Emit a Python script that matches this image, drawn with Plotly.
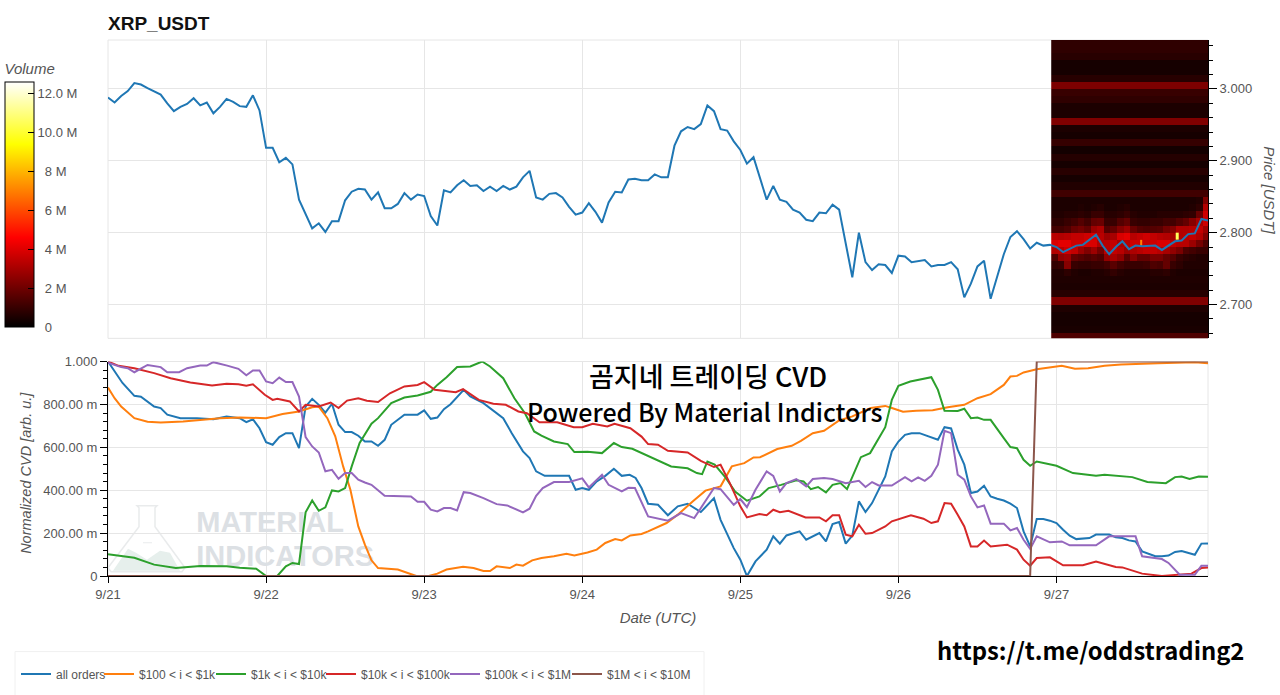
import pandas as pd
import plotly.graph_objects as go

# price is hourly from 9/21 00:00 UTC
start = pd.Timestamp('2025-09-21')
price = [
    2.988, 2.981, 2.990, 2.997, 3.008, 3.006, 3.001, 2.997, 2.992, 2.980, 2.969, 2.975, 2.979, 2.987, 2.977, 2.981,
    2.966, 2.975, 2.986, 2.982, 2.976, 2.975, 2.991, 2.970, 2.918, 2.918, 2.898, 2.904, 2.895, 2.846, 2.825, 2.806,
    2.813, 2.801, 2.816, 2.816, 2.845, 2.857, 2.861, 2.860, 2.846, 2.856, 2.834, 2.834, 2.840, 2.855, 2.846, 2.853,
    2.851, 2.823, 2.810, 2.859, 2.856, 2.866, 2.873, 2.865, 2.866, 2.858, 2.864, 2.858, 2.865, 2.860, 2.864, 2.877,
    2.886, 2.849, 2.846, 2.854, 2.855, 2.849, 2.836, 2.825, 2.828, 2.841, 2.829, 2.814, 2.842, 2.857, 2.856, 2.874,
    2.875, 2.873, 2.873, 2.881, 2.877, 2.877, 2.921, 2.941, 2.947, 2.944, 2.951, 2.977, 2.969, 2.944, 2.942, 2.927,
    2.915, 2.896, 2.905, 2.875, 2.846, 2.865, 2.846, 2.843, 2.832, 2.828, 2.818, 2.816, 2.828, 2.827, 2.839, 2.832,
    2.785, 2.738, 2.800, 2.759, 2.748, 2.756, 2.755, 2.744, 2.768, 2.767, 2.759, 2.761, 2.762, 2.753, 2.755, 2.755,
    2.759, 2.749, 2.710, 2.729, 2.753, 2.761, 2.708, 2.739, 2.770, 2.794, 2.802, 2.791, 2.778, 2.786, 2.782, 2.783,
    2.780, 2.773, 2.778, 2.782, 2.783, 2.790, 2.797, 2.782, 2.770, 2.780, 2.788, 2.777, 2.782, 2.781, 2.781, 2.782,
    2.776, 2.782, 2.788, 2.789, 2.798, 2.799, 2.819, 2.817,
]

all_hours = [0, 2.2, 4, 5, 7, 8, 9, 11, 13.5, 16, 18, 20, 21, 22, 23, 24, 25, 26, 27, 28, 29, 30, 31, 32, 33, 34, 35, 36, 37, 38, 39, 40, 41, 42, 43, 45, 47, 48, 49, 50, 51, 52, 54, 55, 57, 60, 61.3, 63, 64, 65, 66.3, 70, 71, 72, 73, 74.2, 75.5, 76.8, 78, 79.2, 80.1, 81, 82, 83.5, 85, 86.5, 88, 90, 92, 93, 95, 96, 97, 98.3, 100, 101, 102, 103, 105, 106, 108, 109, 110, 111, 112, 113, 114, 115, 116, 118, 119, 120, 121, 122, 123.2, 125, 126, 127, 128, 129, 130, 131, 132, 133, 134, 135, 136, 137, 138, 139, 140, 141, 142, 143, 144, 145, 146, 147, 148, 149, 150, 151, 152, 153, 154, 155, 156, 157, 158, 159, 160, 161, 162, 163, 165, 166, 167]
all_vals = [1.0, .90, .84, .836, .79, .783, .752, .736, .736, .731, .744, .736, .717, .731, .689, .624, .612, .648, .666, .666, .596, .79, .826, .798, .762, .803, .705, .671, .671, .654, .627, .627, .607, .635, .705, .752, .752, .772, .733, .739, .778, .801, .868, .837, .806, .736, .666, .581, .55, .488, .467, .467, .402, .41, .402, .441, .467, .5, .467, .472, .457, .41, .337, .332, .283, .325, .337, .298, .363, .262, .13, .076, .0, .068, .123, .185, .151, .189, .208, .169, .2, .161, .242, .252, .151, .188, .348, .298, .34, .464, .581, .627, .658, .666, .666, .648, .635, .694, .688, .589, .519, .387, .394, .421, .371, .36, .352, .337, .317, .208, .138, .266, .266, .258, .247, .216, .188, .172, .174, .177, .193, .194, .193, .18, .177, .166, .161, .115, .102, .092, .092, .095, .112, .116, .099, .151, .152]

orange_hours = [0, 1, 2, 4, 6, 8, 11.4, 14, 17, 20, 24, 26.5, 29, 31, 32, 33.3, 34.5, 35.7, 36.8, 38, 39, 40, 41, 44, 46, 46.8, 48.7, 50, 51.4, 53.9, 55.5, 57, 58, 59, 61, 62, 63, 64.4, 65.8, 67.7, 69.6, 70.8, 72.8, 74.2, 75.5, 77, 78, 79.3, 81, 82, 84.8, 86.5, 88.8, 90.7, 93, 94.7, 96.6, 98, 99, 101.6, 103.8, 105.2, 107, 108.7, 111, 113, 115.8, 118, 119, 120.7, 122.7, 125.2, 127.5, 130, 132, 134, 136, 137, 138, 139, 141, 144.8, 146.8, 148.8, 151.3, 153.8, 159.4, 162.8, 165, 167]
orange_vals = [.879, .829, .79, .736, .719, .716, .72, .727, .736, .739, .736, .755, .767, .787, .79, .736, .651, .511, .402, .231, .146, .073, .037, .03, .006, 0, 0, .011, .03, .043, .037, .023, .023, .045, .037, .053, .048, .073, .084, .092, .104, .096, .11, .123, .154, .172, .166, .189, .196, .208, .247, .286, .348, .398, .418, .511, .526, .553, .554, .592, .607, .63, .666, .677, .725, .744, .783, .793, .783, .766, .77, .773, .787, .798, .829, .848, .891, .93, .933, .949, .964, .98, .966, .969, .98, .986, .992, .997, .997, .992]

green_hours = [0, 2, 4, 7, 10.3, 14, 18, 20, 22.5, 24, 25.7, 27, 28, 29, 30, 31, 32, 33, 34, 35, 36, 37, 38.2, 40, 41, 43, 45, 47, 49, 50, 51.4, 53, 55, 56.8, 58, 60, 61.7, 63.3, 64.7, 65.8, 67.7, 69.8, 70.8, 72.8, 75, 76.8, 78, 79.6, 81, 83, 85.5, 88, 89.4, 90.2, 91, 92.1, 93.8, 95.2, 97, 98.9, 100.3, 102.2, 104.5, 105.6, 106.7, 107.8, 109, 110, 111.2, 112.2, 113.2, 114.3, 115.7, 118, 119, 120, 121.8, 125, 126, 127, 129, 130, 131, 132, 133, 134, 136, 137, 138, 139, 140, 141, 144, 146.5, 150, 151.3, 155.5, 157.8, 160.6, 162, 163, 164.2, 165.6, 167]
green_vals = [.102, .092, .085, .053, .037, .047, .045, .039, .034, 0, 0, .045, .061, .056, .297, .352, .304, .32, .399, .394, .41, .511, .62, .71, .736, .806, .832, .842, .859, .891, .927, .974, .977, 1.0, .977, .922, .829, .759, .674, .654, .627, .615, .578, .579, .573, .62, .601, .593, .573, .545, .511, .502, .48, .475, .534, .519, .457, .394, .351, .371, .41, .425, .446, .441, .405, .415, .39, .425, .433, .405, .48, .554, .573, .694, .821, .887, .907, .927, .868, .77, .769, .78, .736, .739, .728, .728, .643, .601, .596, .542, .514, .534, .514, .48, .467, .472, .461, .438, .433, .461, .464, .452, .464, .463]

red_hours = [0, 1.6, 4, 7, 9.5, 12.5, 15.8, 18, 19.8, 21, 22, 23.8, 25, 25.7, 27.6, 29, 30, 32, 33.8, 35, 36.3, 38, 39.3, 41, 42.8, 45, 47, 48, 49.6, 52.8, 53.9, 56.3, 58.5, 60.4, 62.3, 63.6, 65.5, 68.2, 70.7, 72, 73.6, 75.8, 76.9, 79.3, 81, 82, 83.5, 85, 88, 90, 92, 93, 94.4, 96, 97, 98.9, 100, 101, 102, 103.3, 105.9, 108, 109, 110, 111, 112, 113, 114, 115, 116, 118, 119, 121.9, 123.8, 125, 126, 127, 128, 129, 130, 131, 132, 133, 134, 136.5, 138, 139, 140, 141, 143, 145, 148, 150, 153, 154, 157, 160, 164.5, 166, 167]
red_vals = [1.0, .98, .969, .946, .922, .902, .888, .896, .894, .887, .894, .845, .821, .826, .814, .767, .798, .79, .809, .783, .818, .829, .817, .811, .852, .884, .891, .904, .868, .857, .871, .821, .803, .798, .767, .759, .717, .717, .694, .694, .71, .697, .71, .689, .65, .615, .612, .584, .576, .537, .508, .519, .433, .325, .273, .289, .283, .309, .297, .304, .273, .273, .255, .283, .283, .193, .185, .239, .197, .2, .231, .255, .283, .267, .247, .255, .34, .337, .286, .231, .138, .138, .165, .138, .146, .123, .076, .048, .084, .087, .05, .05, .067, .042, .04, .011, 0, .011, .037, .04]

purple_hours = [0, 2, 3, 4, 6, 8, 9, 10.8, 12, 14, 15, 16, 18.1, 19.8, 21, 22, 23, 24, 25, 26, 27, 28, 29, 30, 31, 32, 33, 34, 35, 36, 37, 38, 39, 40, 42, 46, 47, 48, 49, 50, 51, 52, 53, 54, 55, 57, 59, 60.6, 63, 64, 65, 66, 67.7, 70, 72, 73, 75, 76, 78, 79, 80, 81, 82, 85, 87, 89, 90, 92, 93, 94, 95, 96, 97, 98.3, 100, 101, 102, 103, 104.5, 106, 107, 108.7, 110, 112, 114, 115, 116, 117, 119, 121, 122, 123, 124, 125, 126, 127, 128, 129, 130, 131, 132, 133, 134, 136, 137, 138, 139, 140, 141, 143, 144.8, 146, 150, 152, 156, 157, 160, 161, 162.7, 165, 166, 167]
purple_vals = [.995, .974, .969, .95, .984, .974, .95, .95, .969, .981, .981, .997, .981, .966, .936, .958, .958, .907, .899, .925, .904, .904, .837, .648, .604, .576, .488, .495, .453, .48, .48, .449, .436, .425, .374, .371, .346, .346, .309, .301, .317, .317, .306, .391, .387, .363, .335, .329, .297, .314, .374, .41, .438, .438, .455, .413, .472, .425, .394, .411, .41, .34, .278, .258, .293, .27, .317, .41, .405, .371, .332, .359, .321, .402, .488, .467, .394, .433, .452, .418, .452, .457, .452, .433, .444, .415, .438, .422, .422, .461, .441, .46, .444, .467, .519, .677, .666, .472, .449, .371, .32, .329, .244, .244, .213, .224, .169, .127, .185, .157, .161, .143, .143, .185, .185, .092, .079, .061, .006, .006, .048, .048]

brown_hours = [0, 140, 141, 167]
brown_vals = [0, 0, 1.0, 1.0]

series_names = ['all orders', '$100 < i < $1k', '$1k < i < $10k', '$10k < i < $100k', '$100k < i < $1M', '$1M < i < $10M']
series_hours = [all_hours, orange_hours, green_hours, red_hours, purple_hours, brown_hours]
series_vals = [all_vals, orange_vals, green_vals, red_vals, purple_vals, brown_vals]
series_colors = ['#1f77b4', '#ff7f0e', '#2ca02c', '#d62728', '#9467bd', '#8c564b']

# order book heatmap, volume in millions per price bucket
heat_hours = [143.2 + i for i in range(25)]
heat_prices = [round(2.65 + 0.01 * i, 2) for i in range(43)]
rows_low = [1.4, .45, .4, .4, .55, 2.3, .7, .5, .55]
rows_mid = [
    [.6, .6, .8, .6, .5, .5, .6, .6, .7, .9, .7, .6, .6, .6, .6, .7, .7, .8, .6, .5, .5, .5, .5, .5],
    [.9, 1.0, 2.4, 1.0, .9, .9, 1.0, 1.0, 1.2, 1.6, 1.2, 1.0, 1.0, 1.0, 1.1, 1.4, 1.3, 1.8, 1.0, .8, .6, .6, .6, .6],
    [1.4, 2.6, 2.8, 1.8, 1.6, 1.4, 1.6, 1.4, 2.6, 3.0, 2.6, 1.6, 2.4, 1.8, 1.8, 2.2, 2.2, 1.8, 1.5, 1.0, .8, .7, .6, .6],
    [3.2, 3.3, 3.7, 3.5, 2.8, 2.3, 2.8, 2.1, 3.3, 3.5, 3.3, 2.8, 3.1, 3.3, 3.5, 3.5, 3.3, 3.0, 2.6, 2.2, 1.4, 1.2, 1.0, 1.0],
    [3.9, 4.1, 4.1, 3.7, 3.7, 3.9, 3.9, 3.2, 3.3, 3.5, 3.0, 3.3, 3.7, 3.7, 3.5, 3.7, 3.9, 3.9, 3.5, 3.3, 3.3, 2.8, 2.1, 1.4],
    [3.3, 3.2, 3.3, 3.5, 3.5, 3.7, 3.9, 3.3, 2.8, 3.0, 3.9, 4.1, 3.3, 3.5, 3.7, 3.5, 3.3, 3.2, 3.0, 3.2, 3.3, 3.5, 3.2, 2.3],
    [1.2, 1.2, 1.4, 1.9, 2.1, 1.8, 2.8, 3.1, 1.5, 1.8, 2.4, 2.8, 1.9, 1.5, 1.4, 1.5, 1.6, 2.1, 2.4, 3.2, 3.2, 3.3, 3.5, 2.8],
    [.8, .8, 1.0, 1.2, 1.5, 1.2, 1.8, 1.9, 1.0, 1.0, 1.5, 1.8, 1.0, .9, .9, 1.0, 1.0, 1.2, 1.2, 1.5, 1.8, 2.4, 3.0, 3.7],
    [.6, .6, .7, .7, .8, .7, 1.0, 1.0, .7, .7, .8, 1.0, .7, .6, .6, .6, .7, .7, .7, .7, .8, .9, 1.9, 3.7],
    [.5, .5, .5, .5, .6, .5, .6, .7, .5, .5, .6, .7, .5, .5, .5, .5, .5, .5, .5, .5, .5, .6, .8, 3.2],
    [.5, .5, .5, .5, .5, .5, .5, .5, .5, .5, .5, .5, .5, .5, .5, .5, .5, .5, .5, .5, .5, .5, .6, 2.3],
]
rows_high = [1.15, .6, .4, .72, .4, .65, .35, .95, .4, .5, 2.3, .5, .5, .85, 1.0, 2.25, .7, .4, .4, .72, .85, .85]
heat_volume = [[v * 1e6 for v in [r] * 24] for r in rows_low]
heat_volume += [[v * 1e6 for v in row] for row in rows_mid]
heat_volume += [[v * 1e6 for v in [r] * 24] for r in rows_high]

# thin bright spots between the hourly columns
spot_hours = [[162.1, 162.5], [156.7, 157.0]]
spot_prices = [[2.79, 2.80], [2.78, 2.79]]
spot_volume = [10.5e6, 7e6]

vol_ticks = [0, 2e6, 4e6, 6e6, 8e6, 10e6, 12e6]
vol_labels = ['\u00a0\u00a00', '\u00a0\u00a02 M', '\u00a0\u00a04 M', '\u00a0\u00a06 M', '\u00a0\u00a08 M', '10.0 M', '12.0 M']
cvd_ticks = [0, .2, .4, .6, .8, 1]
cvd_labels = ['0', '200.00 m', '400.00 m', '600.00 m', '800.00 m', '1.000']
price_ticks = [2.7, 2.8, 2.9, 3.0]
price_labels = ['2.700', '2.800', '2.900', '3.000']

W, H = 1280, 695
LEFT, RIGHT, TOP, BOTTOM = 108, 1208, 39.5, 576.3
FONT = 'Liberation Sans'
GREY = '#555555'
GRID = '#e6e6e6'


def to_time(hours):
    return [start + pd.Timedelta(hours=h) for h in hours]


# page pixels to paper coordinates, paper spans the plot area
def px(x):
    return (x - LEFT) / (RIGHT - LEFT)


def py(y):
    return (BOTTOM - y) / (BOTTOM - TOP)


fig = go.Figure()

# watermark goes in first so the lines stay on top of it
wm_font = dict(family=FONT, size=29, color='#dce0e4', weight='bold')
fig.add_trace(go.Scatter(x=to_time([13.4]), y=[.237], mode='text', text=['MATERIAL'], textposition='middle right',
                         textfont=wm_font, xaxis='x2', yaxis='y2', showlegend=False, hoverinfo='skip'))
fig.add_trace(go.Scatter(x=to_time([13.4]), y=[.079], mode='text', text=['INDICATORS'], textposition='middle right',
                         textfont=wm_font, xaxis='x2', yaxis='y2', showlegend=False, hoverinfo='skip'))

fig.add_trace(go.Heatmap(x=to_time(heat_hours), y=heat_prices, z=heat_volume, coloraxis='coloraxis',
                         xaxis='x', yaxis='y', hoverinfo='skip'))
for sh, sp, sv in zip(spot_hours, spot_prices, spot_volume):
    fig.add_trace(go.Heatmap(x=to_time(sh), y=sp, z=[[sv]], coloraxis='coloraxis',
                             xaxis='x', yaxis='y', hoverinfo='skip'))

fig.add_trace(go.Scatter(x=to_time(range(len(price))), y=price, mode='lines', xaxis='x', yaxis='y',
                         line=dict(color='#1f77b4', width=2), showlegend=False))

for i, (name, hrs, vals, color) in enumerate(zip(series_names, series_hours, series_vals, series_colors)):
    fig.add_trace(go.Scatter(x=to_time(hrs), y=vals, mode='lines', name=name, xaxis='x2', yaxis='y2',
                             legend='legend' if i == 0 else f'legend{i + 1}',
                             line=dict(color=color, width=2)))

x_range = [start, start + pd.Timedelta(hours=167)]

shapes = [
    dict(type='rect', xref='paper', yref='paper', x0=px(108), x1=px(1208), y0=py(338.3), y1=py(39.5),
         line=dict(color=GRID, width=1), layer='below'),
    dict(type='rect', xref='paper', yref='paper', x0=px(108), x1=px(1208), y0=py(576.3), y1=py(361.5),
         line=dict(color=GRID, width=1), layer='below'),
    # legend box
    dict(type='rect', xref='paper', yref='paper', x0=px(15), x1=px(704), y0=py(696), y1=py(652),
         line=dict(color='#f0f0f0', width=1), layer='below'),
]


def path(points, close=True):
    p = 'M ' + ' L '.join(f'{px(x):.5f} {py(y):.5f}' for x, y in points)
    return p + (' Z' if close else '')


# flask logo of the watermark
shapes.append(dict(type='path', xref='paper', yref='paper', layer='below', fillcolor='#e6efec', line=dict(width=0),
                   path=path([(113, 571), (128, 549), (136, 553), (147, 560), (160, 551), (170, 553), (180, 571)])))
shapes.append(dict(type='path', xref='paper', yref='paper', layer='below', line=dict(color='#e9ebec', width=1.5),
                   path=path([(137, 506), (157, 506), (155, 508), (155, 527), (185, 568), (182, 572), (111, 572),
                              (108, 568), (139, 527), (139, 508)])))
shapes.append(dict(type='path', xref='paper', yref='paper', layer='below', line=dict(color='#e9ebec', width=1),
                   path=path([(143, 543), (152, 543)], close=False)))

annotations = [
    dict(text='<b>XRP_USDT</b>', xref='paper', yref='paper', x=px(106), y=py(23), xanchor='left', yanchor='middle',
         showarrow=False, font=dict(family=FONT, size=19, color='#111111')),
    dict(text='곰지네 트레이딩 CVD', xref='paper', yref='paper', x=px(708), y=py(376), xanchor='center', yanchor='middle',
         showarrow=False, font=dict(family='Noto Sans CJK KR', size=27, color='black', weight=500)),
    dict(text='Powered By Material Indictors', xref='paper', yref='paper', x=px(705), y=py(411), xanchor='center',
         yanchor='middle', showarrow=False, font=dict(family='Noto Sans CJK KR', size=25, color='black', weight=500)),
    dict(text='https://t.me/oddstrading2', xref='paper', yref='paper', x=px(1246), y=py(650), xanchor='right',
         yanchor='middle', showarrow=False, font=dict(family='Noto Sans CJK KR', size=23.8, color='black', weight=700)),
    dict(text='Price [USDT]', xref='paper', yref='paper', x=px(1270), y=py(190), xanchor='center', yanchor='middle',
         textangle=90, showarrow=False, font=dict(family=FONT, size=15, color=GREY, style='italic')),
    dict(text='Normalized CVD [arb. u.]', xref='paper', yref='paper', x=px(26), y=py(473), xanchor='center',
         yanchor='middle', textangle=-90, showarrow=False, font=dict(family=FONT, size=14.5, color=GREY, style='italic')),
]

# each legend entry sits at its own place along the legend row
legend_text_x = [56, 139, 251, 361, 485, 607]
legends = {}
for i, lx in enumerate(legend_text_x):
    legends['legend' if i == 0 else f'legend{i + 1}'] = dict(
        x=px(lx - 40), y=py(660), xanchor='left', yanchor='top', bgcolor='rgba(0,0,0,0)',
        font=dict(size=12, color=GREY), itemwidth=30)

tick_font = dict(size=13, color=GREY)

fig.update_layout(
    width=W,
    height=H,
    margin=dict(l=LEFT, r=W - RIGHT, t=TOP, b=H - BOTTOM, autoexpand=False),
    paper_bgcolor='white',
    plot_bgcolor='white',
    font=dict(family=FONT, size=12, color=GREY),
    shapes=shapes,
    annotations=annotations,
    xaxis=dict(domain=[0, 1], anchor='y', type='date', range=x_range, dtick=86400000,
               tick0=start, showticklabels=False, ticks='', showgrid=True, gridcolor=GRID, zeroline=False),
    yaxis=dict(domain=[py(338.3), 1], anchor='x', side='right', range=[2.653, 3.068],
               tickmode='array', tickvals=price_ticks, ticktext=price_labels, tickfont=tick_font,
               showgrid=True, gridcolor=GRID, zeroline=False, showline=True, linecolor='black', linewidth=1,
               ticks='outside', ticklen=8, tickcolor='black',
               minor=dict(tick0=2.66, dtick=0.02, ticks='outside', ticklen=4, tickcolor='black', showgrid=False)),
    xaxis2=dict(domain=[0, 1], anchor='y2', type='date', range=x_range, dtick=86400000, tickfont=tick_font,
                tick0=start, tickformat='%-m/%-d', showgrid=True, gridcolor=GRID, zeroline=False,
                showline=True, linecolor='black', linewidth=1, ticks='outside', ticklen=6, tickcolor='black',
                title=dict(text='Date (UTC)', font=dict(size=15, color=GREY, style='italic'), standoff=11)),
    yaxis2=dict(domain=[0, py(361.5)], anchor='x2', range=[0, 1], tickmode='array', tickfont=tick_font,
                tickvals=cvd_ticks, ticktext=cvd_labels, showgrid=True, gridcolor=GRID, zeroline=False,
                showline=True, linecolor='black', linewidth=1, ticks='outside', ticklen=7, tickcolor='black',
                minor=dict(tick0=0, dtick=0.04, ticks='outside', ticklen=4, tickcolor='black', showgrid=False)),
    coloraxis=dict(
        cmin=0, cmax=12.55e6,
        colorscale=[[0, '#000000'], [.365, '#ff0000'], [.746, '#ffff00'], [1, '#ffffff']],
        colorbar=dict(x=px(5), xanchor='left', y=py(60), yanchor='top', len=267, lenmode='pixels', thickness=29,
                      xpad=0, ypad=0, outlinecolor='black', outlinewidth=1, tickmode='array', tickvals=vol_ticks,
                      ticktext=vol_labels, ticks='inside', ticklen=6, tickcolor='black',
                      tickfont=tick_font,
                      title=dict(text='Volume', side='top', font=dict(size=15, color=GREY, style='italic'))),
    ),
    **legends,
)

fig.write_html('out.html', config={'displayModeBar': False}, post_script="document.body.style.margin='0';")
